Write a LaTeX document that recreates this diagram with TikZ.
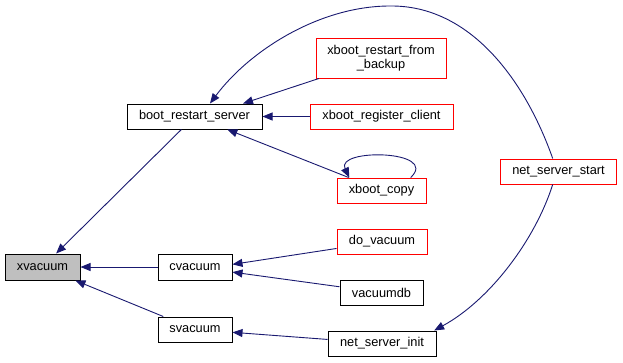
\documentclass[tikz,border=0pt]{standalone}
\usepackage{fontspec}
\setmainfont{Liberation Sans}
\usetikzlibrary{arrows.meta}
\definecolor{edgeblue}{RGB}{25,25,112}
\definecolor{nodegray}{RGB}{191,191,191}
\tikzset{
  fn/.style={draw=black, line width=1pt, fill=white, inner sep=0pt, align=center,
    font=\fontsize{12.8}{14.5}\selectfont, minimum height=25pt},
  fnred/.style={fn, draw=red},
  fnmain/.style={fn, fill=nodegray},
  call/.style={draw=edgeblue, line width=0.9pt,
    -{Triangle[length=10pt,width=8pt]}, color=edgeblue}
}
\begin{document}
\begin{tikzpicture}[x=1pt,y=-1pt]
  \useasboundingbox (0,0) rectangle (623,362);

  % functions
  \node[fnmain, minimum width=75pt, minimum height=26pt] (xv) at (42.5,267) {xvacuum};
  \node[fn, minimum width=135pt] (brs) at (194.5,116.5) {boot\_restart\_server};
  \node[fn, minimum width=74pt, minimum height=26pt] (cv) at (195,267) {cvacuum};
  \node[fn, minimum width=74pt] (sv) at (195,329.5) {svacuum};
  \node[fnred, minimum width=130pt, minimum height=40pt] (bk) at (381,58) {xboot\_restart\_from\\\_backup};
  \node[fnred, minimum width=143pt] (rc) at (381.5,116.5) {xboot\_register\_client};
  \node[fnred, minimum width=89pt] (xc) at (381.5,190.5) {xboot\_copy};
  \node[fnred, minimum width=116pt] (nss) at (558.5,171.5) {net\_server\_start};
  \node[fnred, minimum width=90pt] (dv) at (382,241.5) {do\_vacuum};
  \node[fn, minimum width=83pt] (vdb) at (381.5,292.5) {vacuumdb};
  \node[fn, minimum width=108pt] (nsi) at (382,343.5) {net\_server\_init};

  % calls
  \draw[call] (brs) -- (xv);
  \draw[call] (cv) -- (xv);
  \draw[call] (sv) -- (xv);
  \draw[call] (bk) -- (brs.15);
  \draw[call] (rc) -- (brs);
  \draw[call] (xc) -- (brs);
  \draw[call] (xc.24) .. controls (440,150) and (335,148) .. (xc.158);
  \draw[call] (nss.114) .. controls (525,80) and (470,5) .. (390,6)
                        .. controls (320,6) and (250,50) .. (brs.40);
  \draw[call] (dv) -- (cv.4);
  \draw[call] (vdb) -- (cv);
  \draw[call] (nsi) -- (sv);
  \draw[call] (nss.246) .. controls (535,240) and (490,300) .. (nsi.14);
\end{tikzpicture}
\end{document}
